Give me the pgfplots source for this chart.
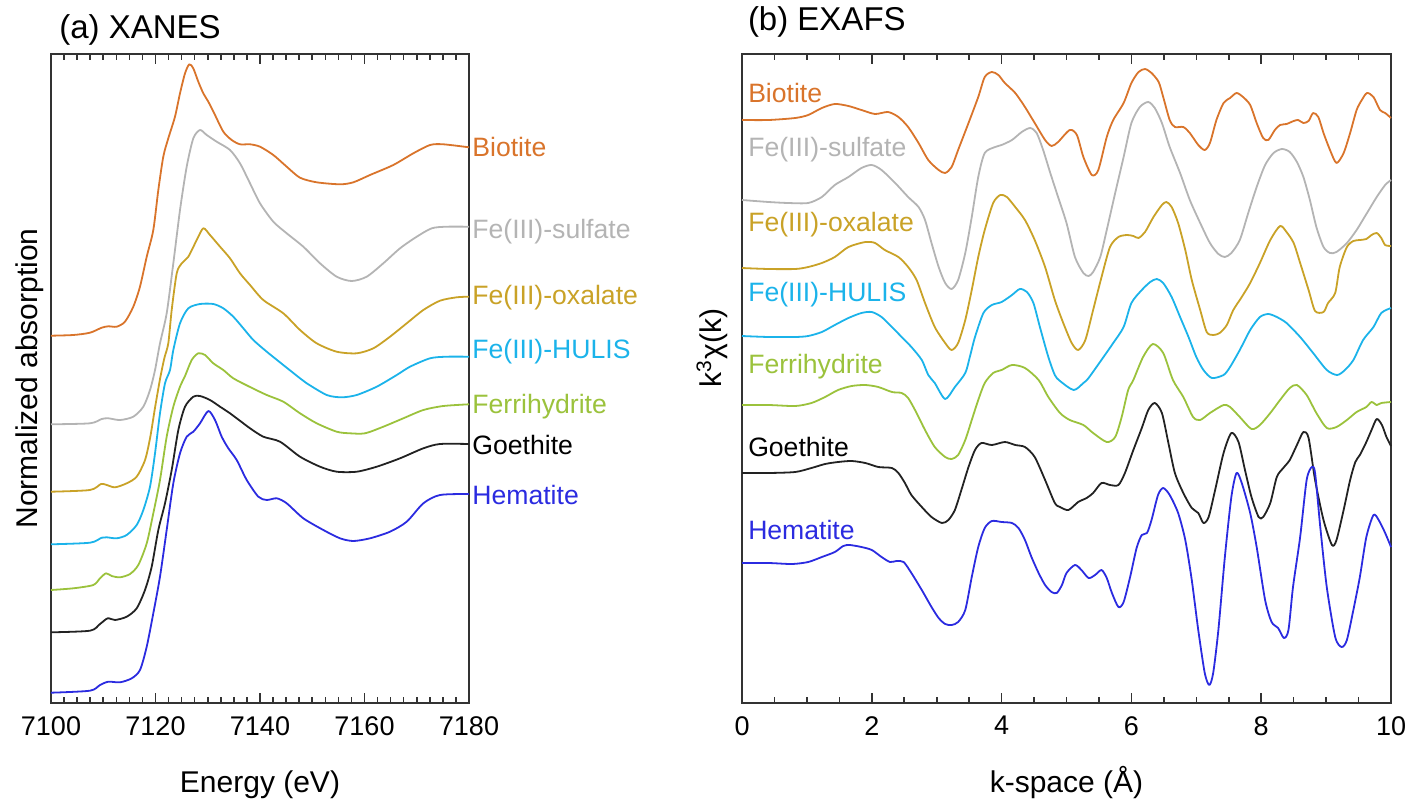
\documentclass[border=0pt]{standalone}
\usepackage{fontspec}
\setmainfont{Liberation Sans}
\usepackage{pgfplots}
\pgfplotsset{compat=1.18}
\definecolor{cBio}{HTML}{D9742B}
\definecolor{cSul}{HTML}{B4B4B4}
\definecolor{cOxa}{HTML}{C9A227}
\definecolor{cHul}{HTML}{1BB3EA}
\definecolor{cFer}{HTML}{9BC23C}
\definecolor{cGoe}{HTML}{222222}
\definecolor{cHem}{HTML}{2B2BE0}
\definecolor{cAx}{HTML}{333333}
\newcommand\lblfont{\fontsize{13.3}{16}\selectfont}
\newcommand\axfont{\fontsize{15}{18}\selectfont}
\newcommand\tkfont{\fontsize{13.5}{16}\selectfont}
\pgfplotsset{base/.style={scale only axis, anchor=south west, height=324.5pt,
  ymin=0, ymax=6.49, ytick=\empty, clip=false,
  xtick pos=both, tick align=inside, major tick length=5pt, minor tick length=3pt,
  tick style={cAx, line width=0.8pt}, axis line style={cAx, line width=0.8pt},
  xticklabel style={yshift=-2pt},
  x label style={at={(axis description cs:0.5,0)}, anchor=base, yshift=-44.5pt, font=\axfont},
  every axis plot/.append style={line width=0.9pt, line join=round, smooth, tension=0.45}}}
\begin{document}
\tkfont
\begin{tikzpicture}
\path[use as bounding box] (0,0) rectangle (704pt,400pt);
\node[anchor=base west, inner sep=0, font=\fontsize{16.5}{20}\selectfont] at (29.5pt,380.9pt) {(a) XANES};
\node[anchor=base west, inner sep=0, font=\fontsize{16.5}{20}\selectfont] at (373.8pt,384.6pt) {(b) EXAFS};
\begin{axis}[base, at={(25.5pt,48.5pt)}, width=209pt,
  xmin=7100, xmax=7180, xtick={7100,7120,7140,7160,7180}, minor x tick num=7,
  xticklabels={7100,7120,7140,7160,7180},
  xticklabel style={font=\tkfont},
  xlabel={Energy (eV)}, ylabel={Normalized absorption},
  y label style={at={(axis description cs:-0.05,0.5)}, anchor=center, font=\axfont}]
\pgfplotsinvokeforeach{7100,7120,7140,7160,7180}{
  \draw[cAx, line width=0.8pt] (axis cs:#1,0) -- ([yshift=5pt]axis cs:#1,0);
  \draw[cAx, line width=0.8pt] (axis cs:#1,6.49) -- ([yshift=-5pt]axis cs:#1,6.49);
}
\pgfplotsinvokeforeach{7102.5,7105,7107.5,7110,7112.5,7115,7117.5,7122.5,7125,7127.5,7130,7132.5,7135,7137.5,7142.5,7145,7147.5,7150,7152.5,7155,7157.5,7162.5,7165,7167.5,7170,7172.5,7175,7177.5}{
  \draw[cAx, line width=0.8pt] (axis cs:#1,0) -- ([yshift=3pt]axis cs:#1,0);
  \draw[cAx, line width=0.8pt] (axis cs:#1,6.49) -- ([yshift=-3pt]axis cs:#1,6.49);
}
\addplot[cBio] coordinates {(7100.0,3.673)(7104.27,3.68)(7107.46,3.703)(7109.70,3.753)(7110.97,3.767)(7112.57,3.763)(7114.16,3.813)(7115.75,3.963)(7117.03,4.163)(7118.32,4.463)(7119.58,4.73)(7120.54,5.13)(7121.49,5.463)(7122.45,5.647)(7123.73,5.863)(7124.69,6.097)(7125.65,6.297)(7126.47,6.387)(7127.23,6.347)(7128.19,6.213)(7129.15,6.097)(7130.11,6.013)(7131.39,5.88)(7132.98,5.713)(7134.58,5.63)(7136.17,5.587)(7138.09,5.587)(7140.0,5.563)(7142.55,5.48)(7145.11,5.363)(7147.66,5.253)(7150.85,5.207)(7155.31,5.187)(7157.86,5.207)(7161.05,5.28)(7165.51,5.38)(7169.34,5.497)(7172.54,5.58)(7175.08,5.587)(7180,5.557)};
\addplot[cSul] coordinates {(7100,2.787)(7107.46,2.797)(7109.70,2.84)(7110.97,2.847)(7113.21,2.83)(7115.75,2.863)(7117.67,2.963)(7118.95,3.13)(7119.91,3.33)(7120.86,3.597)(7122.14,3.897)(7123.41,4.397)(7124.69,4.93)(7125.97,5.363)(7127.24,5.647)(7128.52,5.73)(7129.80,5.68)(7131.71,5.613)(7134.26,5.53)(7136.17,5.397)(7138.09,5.197)(7140.0,4.997)(7142.55,4.813)(7145.11,4.697)(7148.29,4.563)(7151.49,4.397)(7154.68,4.263)(7157.55,4.22)(7160.42,4.263)(7163.60,4.397)(7166.80,4.547)(7170.0,4.663)(7172.87,4.747)(7175.74,4.763)(7180,4.763)};
\addplot[cOxa] coordinates {(7100,2.113)(7107.46,2.13)(7109.57,2.19)(7110.66,2.18)(7112.25,2.157)(7114.49,2.197)(7116.40,2.263)(7118.0,2.43)(7119.0,2.66)(7119.9,2.95)(7120.9,3.25)(7121.7,3.45)(7122.45,3.597)(7123.10,3.93)(7124.06,4.297)(7125.02,4.397)(7126.28,4.463)(7127.89,4.63)(7129.15,4.747)(7130.43,4.68)(7132.35,4.563)(7134.26,4.447)(7136.17,4.297)(7138.09,4.18)(7140.63,4.03)(7144.46,3.897)(7147.66,3.73)(7150.85,3.597)(7154.68,3.513)(7158.51,3.497)(7161.69,3.547)(7164.88,3.663)(7168.08,3.797)(7171.26,3.93)(7174.45,4.023)(7177.65,4.057)(7180,4.063)};
\addplot[cHul] coordinates {(7100,1.587)(7107.46,1.603)(7109.70,1.653)(7110.66,1.657)(7112.57,1.647)(7114.49,1.68)(7116.40,1.78)(7117.67,1.93)(7118.95,2.163)(7119.91,2.497)(7120.86,2.897)(7121.82,3.197)(7122.78,3.33)(7123.41,3.53)(7124.69,3.797)(7126.28,3.947)(7128.52,3.99)(7131.06,3.99)(7132.98,3.947)(7134.89,3.863)(7136.81,3.747)(7138.72,3.63)(7141.29,3.513)(7144.46,3.38)(7147.66,3.247)(7148.94,3.197)(7152.77,3.08)(7155.64,3.057)(7158.51,3.08)(7162.34,3.163)(7166.17,3.28)(7168.71,3.363)(7172.54,3.447)(7175.74,3.463)(7180,3.463)};
\addplot[cFer] coordinates {(7100,1.13)(7104.27,1.147)(7108.10,1.18)(7109.38,1.247)(7110.53,1.297)(7111.62,1.27)(7113.21,1.257)(7115.12,1.29)(7116.71,1.38)(7118.32,1.597)(7119.58,1.897)(7120.86,2.23)(7122.14,2.663)(7123.41,2.963)(7124.69,3.163)(7125.65,3.27)(7126.93,3.43)(7128.19,3.497)(7129.48,3.48)(7131.06,3.397)(7132.98,3.33)(7134.89,3.247)(7138.09,3.16)(7141.29,3.08)(7144.46,3.013)(7147.66,2.897)(7150.85,2.797)(7154.68,2.713)(7157.23,2.697)(7160.10,2.697)(7163.60,2.763)(7167.43,2.847)(7171.26,2.93)(7175.09,2.97)(7180,2.987)};
\addplot[cGoe] coordinates {(7100,0.707)(7107.46,0.723)(7109.38,0.79)(7110.85,0.847)(7112.25,0.83)(7114.49,0.863)(7116.40,0.947)(7117.99,1.13)(7119.27,1.363)(7120.54,1.73)(7121.82,1.997)(7123.10,2.33)(7124.37,2.73)(7125.65,2.963)(7127.24,3.063)(7128.52,3.07)(7130.43,3.03)(7132.35,2.963)(7134.26,2.897)(7136.81,2.797)(7138.09,2.747)(7140.63,2.663)(7143.83,2.613)(7147.66,2.463)(7151.49,2.363)(7154.68,2.313)(7158.51,2.313)(7162.34,2.363)(7166.80,2.447)(7171.26,2.547)(7174.45,2.59)(7180,2.59)};
\addplot[cHem] coordinates {(7100,0.103)(7107.46,0.123)(7109.38,0.18)(7110.97,0.213)(7113.21,0.207)(7115.45,0.247)(7117.03,0.33)(7118.32,0.563)(7119.58,0.897)(7120.86,1.263)(7122.14,1.73)(7123.41,2.197)(7124.69,2.497)(7125.97,2.663)(7127.24,2.713)(7128.52,2.797)(7130.11,2.92)(7131.39,2.83)(7132.67,2.663)(7133.94,2.547)(7135.54,2.43)(7137.46,2.23)(7139.68,2.063)(7141.29,2.03)(7143.20,2.047)(7145.11,1.997)(7148.29,1.847)(7152.12,1.73)(7155.31,1.647)(7157.86,1.62)(7161.06,1.647)(7164.88,1.713)(7168.08,1.813)(7171.26,1.997)(7174.45,2.08)(7180,2.09)};
\begin{scope}[every node/.style={anchor=west, inner sep=0, xshift=1.5pt, font=\lblfont}]
\node[text=cBio] at (axis cs:7180,5.56) {Biotite};
\node[text=cSul] at (axis cs:7180,4.71) {Fe(III)-sulfate};
\node[text=cOxa] at (axis cs:7180,4.05) {Fe(III)-oxalate};
\node[text=cHul] at (axis cs:7180,3.51) {Fe(III)-HULIS};
\node[text=cFer] at (axis cs:7180,2.96) {Ferrihydrite};
\node[text=black] at (axis cs:7180,2.58) {Goethite};
\node[text=cHem] at (axis cs:7180,2.08) {Hematite};
\end{scope}
\end{axis}
\begin{axis}[base, at={(371pt,48.5pt)}, width=324.5pt,
  xmin=0, xmax=10, xtick={0,2,4,6,8,10}, minor x tick num=3,
  xticklabels={0,2,4,6,8,10},
  xticklabel style={font=\tkfont},
  xlabel={k-space (Å)}, ylabel={k\textsuperscript{3}χ(k)},
  y label style={at={(axis description cs:-0.046,0.547)}, anchor=center, font=\axfont}]
\pgfplotsinvokeforeach{0,2,4,6,8,10}{
  \draw[cAx, line width=0.8pt] (axis cs:#1,0) -- ([yshift=5pt]axis cs:#1,0);
  \draw[cAx, line width=0.8pt] (axis cs:#1,6.49) -- ([yshift=-5pt]axis cs:#1,6.49);
}
\pgfplotsinvokeforeach{0.5,1,1.5,2.5,3,3.5,4.5,5,5.5,6.5,7,7.5,8.5,9,9.5}{
  \draw[cAx, line width=0.8pt] (axis cs:#1,0) -- ([yshift=3pt]axis cs:#1,0);
  \draw[cAx, line width=0.8pt] (axis cs:#1,6.49) -- ([yshift=-3pt]axis cs:#1,6.49);
}
\addplot[cBio] coordinates {(0,5.83)(0.41,5.83)(0.82,5.85)(1.02,5.88)(1.23,5.95)(1.43,5.99)(1.64,5.97)(1.84,5.93)(2.05,5.89)(2.25,5.91)(2.41,5.86)(2.56,5.76)(2.72,5.60)(2.87,5.43)(3.03,5.33)(3.13,5.30)(3.23,5.36)(3.33,5.53)(3.49,5.80)(3.64,6.06)(3.74,6.26)(3.85,6.31)(3.95,6.28)(4.05,6.20)(4.21,6.10)(4.36,5.96)(4.51,5.80)(4.67,5.63)(4.77,5.57)(4.87,5.61)(5.05,5.73)(5.16,5.68)(5.26,5.46)(5.39,5.28)(5.49,5.33)(5.62,5.66)(5.72,5.83)(5.88,6.00)(6.00,6.20)(6.11,6.31)(6.21,6.34)(6.31,6.30)(6.42,6.21)(6.49,6.06)(6.59,5.83)(6.67,5.76)(6.80,5.76)(6.90,5.70)(7.03,5.58)(7.13,5.53)(7.21,5.60)(7.31,5.83)(7.42,6.00)(7.52,6.05)(7.62,6.10)(7.72,6.06)(7.83,5.98)(7.93,5.80)(8.03,5.65)(8.11,5.63)(8.21,5.73)(8.29,5.78)(8.39,5.79)(8.50,5.82)(8.57,5.83)(8.65,5.80)(8.73,5.82)(8.80,5.90)(8.88,5.86)(8.96,5.70)(9.06,5.53)(9.16,5.40)(9.27,5.50)(9.37,5.70)(9.47,5.93)(9.55,6.03)(9.63,6.10)(9.73,6.06)(9.83,5.93)(9.91,5.90)(10.0,5.85)};
\addplot[cSul] coordinates {(0,5.03)(0.41,5.01)(0.71,5.00)(1.02,5.00)(1.23,5.06)(1.43,5.18)(1.64,5.26)(1.84,5.35)(2.00,5.38)(2.15,5.33)(2.36,5.20)(2.56,5.06)(2.72,4.96)(2.82,4.83)(2.92,4.60)(3.03,4.36)(3.13,4.20)(3.23,4.14)(3.33,4.23)(3.44,4.50)(3.54,4.86)(3.64,5.26)(3.74,5.50)(3.90,5.56)(4.00,5.58)(4.16,5.63)(4.31,5.71)(4.44,5.75)(4.54,5.70)(4.64,5.53)(4.75,5.30)(4.85,5.10)(5.00,4.80)(5.13,4.46)(5.26,4.30)(5.34,4.27)(5.41,4.31)(5.52,4.46)(5.62,4.73)(5.75,5.10)(5.88,5.46)(6.00,5.80)(6.13,5.96)(6.26,6.01)(6.36,5.95)(6.47,5.80)(6.59,5.56)(6.75,5.30)(6.90,5.03)(7.06,4.80)(7.21,4.60)(7.34,4.49)(7.44,4.46)(7.54,4.50)(7.67,4.63)(7.80,4.90)(7.93,5.16)(8.06,5.38)(8.19,5.50)(8.32,5.54)(8.44,5.51)(8.55,5.41)(8.65,5.26)(8.75,5.03)(8.85,4.76)(8.96,4.56)(9.06,4.50)(9.16,4.51)(9.32,4.60)(9.47,4.73)(9.63,4.90)(9.78,5.06)(9.91,5.18)(10.0,5.23)};
\addplot[cOxa] coordinates {(0,4.35)(0.41,4.34)(0.82,4.34)(1.02,4.36)(1.23,4.40)(1.43,4.46)(1.64,4.56)(1.90,4.61)(2.05,4.60)(2.20,4.53)(2.41,4.46)(2.56,4.36)(2.69,4.23)(2.82,4.00)(2.97,3.76)(3.13,3.60)(3.23,3.53)(3.33,3.60)(3.44,3.83)(3.54,4.13)(3.64,4.46)(3.74,4.73)(3.87,5.00)(3.98,5.08)(4.08,5.06)(4.21,4.96)(4.36,4.83)(4.51,4.63)(4.67,4.36)(4.82,4.03)(4.95,3.80)(5.08,3.60)(5.18,3.53)(5.29,3.63)(5.41,3.93)(5.54,4.26)(5.67,4.56)(5.80,4.66)(5.93,4.68)(6.03,4.67)(6.11,4.65)(6.21,4.71)(6.34,4.86)(6.47,4.98)(6.54,5.01)(6.62,4.96)(6.72,4.80)(6.83,4.53)(6.93,4.23)(7.06,3.93)(7.16,3.71)(7.26,3.68)(7.36,3.70)(7.47,3.78)(7.57,3.93)(7.70,4.06)(7.83,4.20)(7.98,4.40)(8.14,4.63)(8.29,4.77)(8.39,4.71)(8.50,4.60)(8.60,4.40)(8.73,4.13)(8.83,3.92)(8.96,3.91)(9.03,4.00)(9.14,4.10)(9.21,4.36)(9.32,4.56)(9.42,4.62)(9.52,4.63)(9.62,4.64)(9.70,4.68)(9.78,4.70)(9.85,4.65)(9.91,4.58)(10.0,4.57)};
\addplot[cHul] coordinates {(0,3.67)(0.41,3.66)(0.82,3.66)(1.02,3.67)(1.23,3.71)(1.43,3.78)(1.64,3.85)(1.84,3.90)(2.00,3.91)(2.15,3.86)(2.31,3.76)(2.46,3.66)(2.61,3.56)(2.77,3.43)(2.87,3.28)(2.97,3.20)(3.13,3.04)(3.28,3.16)(3.44,3.30)(3.51,3.46)(3.59,3.66)(3.72,3.90)(3.85,3.98)(4.00,4.01)(4.16,4.08)(4.28,4.14)(4.39,4.11)(4.49,4.00)(4.59,3.76)(4.72,3.46)(4.82,3.28)(4.90,3.22)(5.11,3.13)(5.26,3.20)(5.34,3.25)(5.57,3.46)(5.72,3.60)(5.88,3.76)(6.00,4.00)(6.16,4.13)(6.29,4.21)(6.39,4.24)(6.49,4.20)(6.62,4.06)(6.75,3.86)(6.88,3.66)(7.00,3.46)(7.11,3.33)(7.24,3.25)(7.42,3.28)(7.52,3.36)(7.67,3.53)(7.83,3.73)(7.98,3.86)(8.11,3.89)(8.24,3.86)(8.39,3.80)(8.60,3.66)(8.80,3.50)(9.01,3.33)(9.17,3.28)(9.29,3.33)(9.42,3.43)(9.57,3.63)(9.73,3.76)(9.85,3.90)(10.0,3.95)};
\addplot[cFer] coordinates {(0,2.98)(0.41,2.98)(0.82,2.97)(1.07,3.00)(1.28,3.06)(1.48,3.13)(1.69,3.17)(1.90,3.18)(2.10,3.16)(2.31,3.11)(2.46,3.10)(2.56,3.05)(2.69,2.90)(2.82,2.73)(2.97,2.56)(3.13,2.46)(3.23,2.44)(3.33,2.48)(3.44,2.63)(3.54,2.83)(3.64,3.03)(3.74,3.20)(3.87,3.30)(4.00,3.33)(4.16,3.38)(4.36,3.35)(4.57,3.23)(4.72,3.06)(4.90,2.90)(5.05,2.83)(5.26,2.78)(5.41,2.70)(5.62,2.61)(5.75,2.66)(5.85,2.86)(5.95,3.13)(6.03,3.23)(6.18,3.46)(6.33,3.59)(6.49,3.50)(6.64,3.23)(6.80,3.06)(6.95,2.86)(7.06,2.83)(7.21,2.90)(7.42,2.98)(7.52,2.96)(7.67,2.86)(7.85,2.74)(7.98,2.78)(8.14,2.90)(8.29,3.03)(8.44,3.15)(8.55,3.18)(8.70,3.08)(8.85,2.90)(9.01,2.75)(9.16,2.76)(9.32,2.83)(9.47,2.91)(9.62,2.96)(9.70,3.01)(9.78,2.98)(9.85,3.00)(10.0,3.01)};
\addplot[cGoe] coordinates {(0,2.30)(0.41,2.30)(0.82,2.31)(1.07,2.35)(1.28,2.39)(1.48,2.41)(1.69,2.42)(1.90,2.40)(2.10,2.36)(2.31,2.35)(2.41,2.30)(2.51,2.20)(2.61,2.08)(2.77,1.96)(2.92,1.86)(3.08,1.80)(3.18,1.83)(3.28,1.93)(3.38,2.13)(3.49,2.36)(3.59,2.53)(3.69,2.60)(3.85,2.58)(4.05,2.61)(4.21,2.58)(4.36,2.56)(4.51,2.46)(4.67,2.23)(4.82,2.00)(4.90,1.96)(5.03,1.93)(5.18,2.01)(5.31,2.05)(5.41,2.10)(5.54,2.20)(5.67,2.18)(5.80,2.18)(5.90,2.30)(6.03,2.53)(6.16,2.75)(6.26,2.93)(6.36,3.00)(6.47,2.90)(6.57,2.60)(6.67,2.30)(6.80,2.10)(6.93,1.95)(7.03,1.90)(7.11,1.80)(7.19,1.86)(7.29,2.13)(7.42,2.50)(7.54,2.70)(7.65,2.61)(7.75,2.33)(7.85,2.06)(7.96,1.86)(8.03,1.86)(8.14,2.00)(8.24,2.26)(8.34,2.35)(8.44,2.43)(8.55,2.58)(8.65,2.71)(8.73,2.65)(8.83,2.23)(8.96,1.83)(9.09,1.58)(9.16,1.63)(9.27,1.93)(9.37,2.23)(9.45,2.41)(9.52,2.48)(9.62,2.61)(9.70,2.73)(9.78,2.84)(9.86,2.78)(9.93,2.66)(10.0,2.57)};
\addplot[cHem] coordinates {(0,1.40)(0.41,1.40)(0.77,1.39)(1.02,1.41)(1.23,1.46)(1.43,1.51)(1.56,1.57)(1.66,1.58)(1.84,1.56)(2.00,1.53)(2.15,1.46)(2.28,1.41)(2.38,1.42)(2.49,1.41)(2.61,1.30)(2.77,1.13)(2.92,0.96)(3.03,0.85)(3.13,0.79)(3.23,0.78)(3.33,0.81)(3.44,0.93)(3.54,1.26)(3.64,1.56)(3.74,1.75)(3.85,1.82)(4.00,1.81)(4.16,1.80)(4.26,1.75)(4.36,1.63)(4.46,1.46)(4.57,1.30)(4.67,1.18)(4.77,1.11)(4.85,1.10)(4.93,1.18)(5.00,1.30)(5.13,1.38)(5.23,1.33)(5.34,1.25)(5.44,1.28)(5.54,1.33)(5.62,1.25)(5.70,1.10)(5.80,0.96)(5.88,1.01)(5.98,1.26)(6.08,1.55)(6.16,1.68)(6.24,1.70)(6.31,1.83)(6.41,2.08)(6.49,2.15)(6.59,2.08)(6.72,1.90)(6.83,1.63)(6.93,1.23)(7.03,0.73)(7.13,0.30)(7.20,0.18)(7.26,0.30)(7.34,0.73)(7.44,1.46)(7.54,2.06)(7.62,2.30)(7.70,2.20)(7.83,1.90)(7.93,1.56)(8.06,1.03)(8.16,0.81)(8.26,0.75)(8.35,0.65)(8.42,0.73)(8.49,1.16)(8.60,1.66)(8.70,2.23)(8.78,2.36)(8.83,2.30)(8.91,1.76)(9.01,1.16)(9.14,0.66)(9.24,0.56)(9.32,0.63)(9.42,0.93)(9.52,1.26)(9.62,1.66)(9.73,1.88)(9.81,1.83)(9.91,1.70)(10.0,1.56)};
\begin{scope}[every node/.style={anchor=west, inner sep=0, font=\lblfont}]
\node[text=cBio] at (axis cs:0.09,6.10) {Biotite};
\node[text=cSul] at (axis cs:0.09,5.53) {Fe(III)-sulfate};
\node[text=cOxa] at (axis cs:0.09,4.78) {Fe(III)-oxalate};
\node[text=cHul] at (axis cs:0.09,4.08) {Fe(III)-HULIS};
\node[text=cFer] at (axis cs:0.09,3.36) {Ferrihydrite};
\node[text=black] at (axis cs:0.09,2.56) {Goethite};
\node[text=cHem] at (axis cs:0.09,1.73) {Hematite};
\end{scope}
\end{axis}
\end{tikzpicture}
\end{document}
